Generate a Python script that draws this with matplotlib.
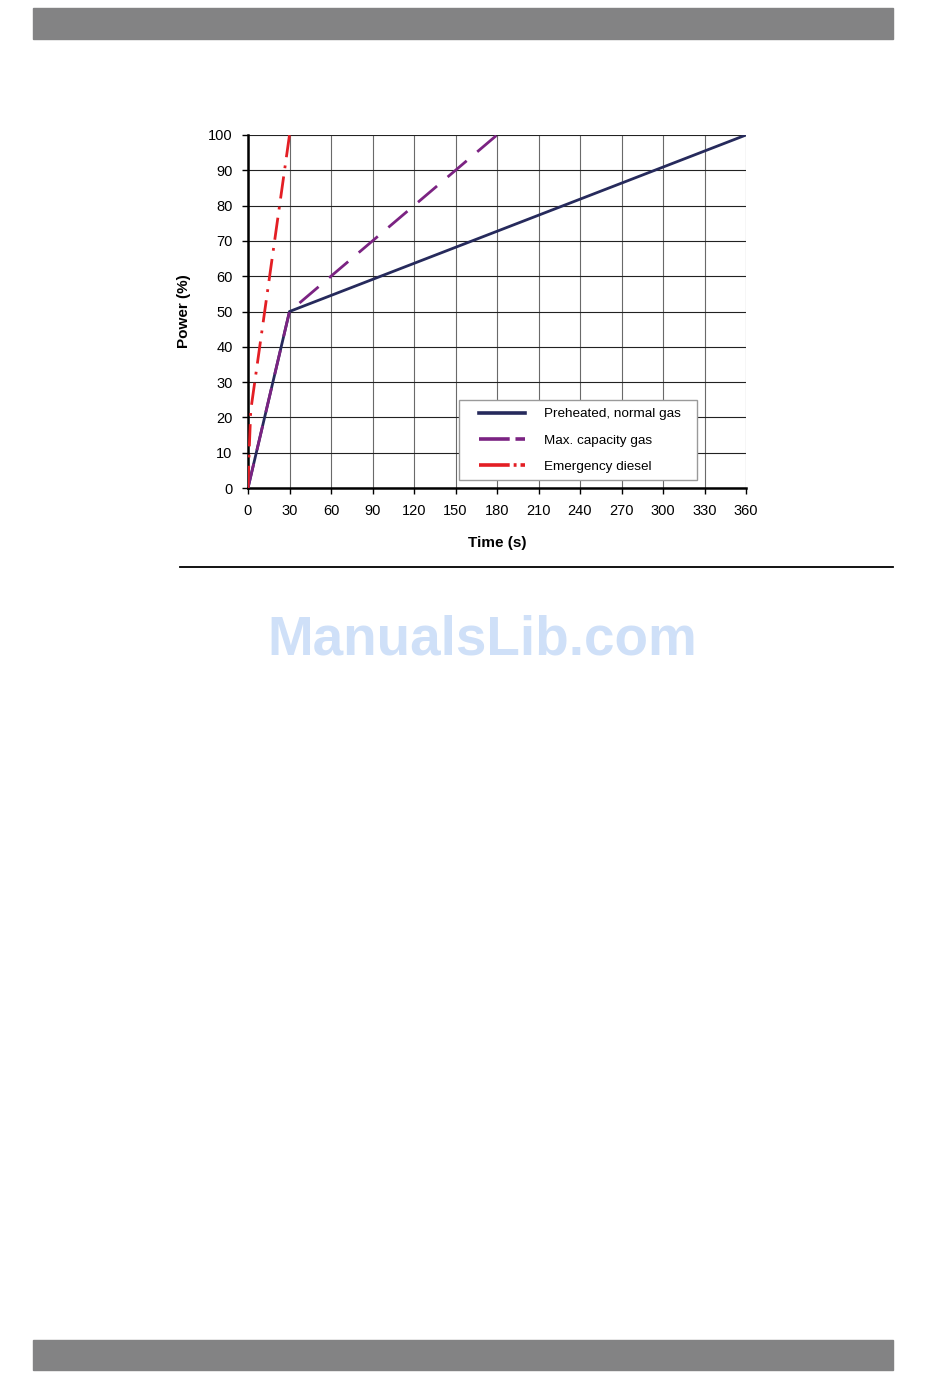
import matplotlib.pyplot as plt
from matplotlib.patches import Rectangle
from matplotlib.lines import Line2D

plt.rcParams['font.family'] = ['Liberation Sans', 'DejaVu Sans']

# series (time in s, power in %)
pre_t = [0, 30, 360]
pre_p = [0, 50, 100]
max_t = [0, 30, 180]
max_p = [0, 50, 100]
em_t = [0, 1, 2, 30]
em_p = [0, 12, 22, 100]

labels = ["Preheated, normal gas", "Max. capacity gas", "Emergency diesel"]
colors = ["#262a5c", "#7b2382", "#e31e24"]
xticks = list(range(0, 361, 30))
yticks = list(range(0, 101, 10))

W, H = 950, 1378
fig = plt.figure(figsize=(W / 100, H / 100), dpi=100)

# page decoration: grey bars, rule, watermark
fig.patches.append(Rectangle((33 / W, 1 - 39 / H), 860 / W, 31 / H,
                             transform=fig.transFigure, color="#838384", zorder=0))
fig.patches.append(Rectangle((33 / W, 1 - 1370 / H), 860 / W, 30 / H,
                             transform=fig.transFigure, color="#838384", zorder=0))
fig.add_artist(Line2D([180 / W, 893 / W], [1 - 567 / H, 1 - 567 / H],
                      transform=fig.transFigure, color="black", lw=1.3))
fig.text(482 / W, 1 - 641 / H, "ManualsLib.com", ha="center", va="center",
         fontsize=39.5, fontweight="bold", color="#cfe0f8")

ax = fig.add_axes([248 / W, 1 - 488 / H, 498 / W, 353 / H])
ax.set_xlim(0, 360)
ax.set_ylim(0, 100)
ax.set_xticks(xticks)
ax.set_yticks(yticks)
ax.tick_params(direction="out", length=4, width=1, labelsize=10.5)
ax.tick_params(axis="x", pad=7.5)
ax.tick_params(axis="y", pad=7)
ax.xaxis.grid(True, color="#6a6a6a", lw=0.8)
ax.yaxis.grid(True, color="#222222", lw=0.8)
ax.set_axisbelow(True)
for s in ["top", "right"]:
    ax.spines[s].set_visible(False)
ax.spines["left"].set_linewidth(1.8)
ax.spines["bottom"].set_linewidth(1.8)

ax.plot(pre_t, pre_p, color=colors[0], lw=2, label=labels[0], zorder=3)
ax.plot(max_t, max_p, color=colors[1], lw=2, dashes=(9, 5), label=labels[1], zorder=4)
ax.plot(em_t, em_p, color=colors[2], lw=2, dashes=(8, 3, 1, 3), label=labels[2], zorder=5)

ax.set_xlabel("Time (s)", fontsize=11, fontweight="bold", labelpad=13)
ax.set_ylabel("Power (%)", fontsize=11, fontweight="bold", labelpad=12)

# legend frame drawn separately so the padding matches the original
ax.add_patch(Rectangle((0.4237, 0.0227), 0.478, 0.227, transform=ax.transAxes,
                       facecolor="white", edgecolor="#9a9a9a", lw=1, zorder=6))
leg = ax.legend(loc="upper left", bbox_to_anchor=(0.4639, 0.227), borderaxespad=0,
                borderpad=0, fontsize=9.7, handlelength=3.4, handletextpad=1.4,
                labelspacing=1.04, frameon=False)
leg.set_zorder(7)
hl = leg.get_lines()
for h in hl:
    h.set_linewidth(2.6)
hl[1].set_dashes((8.5, 1.6))
hl[2].set_dashes((8.5, 1.1, 0.8, 1.1))

fig.savefig("out.png", dpi=100)
